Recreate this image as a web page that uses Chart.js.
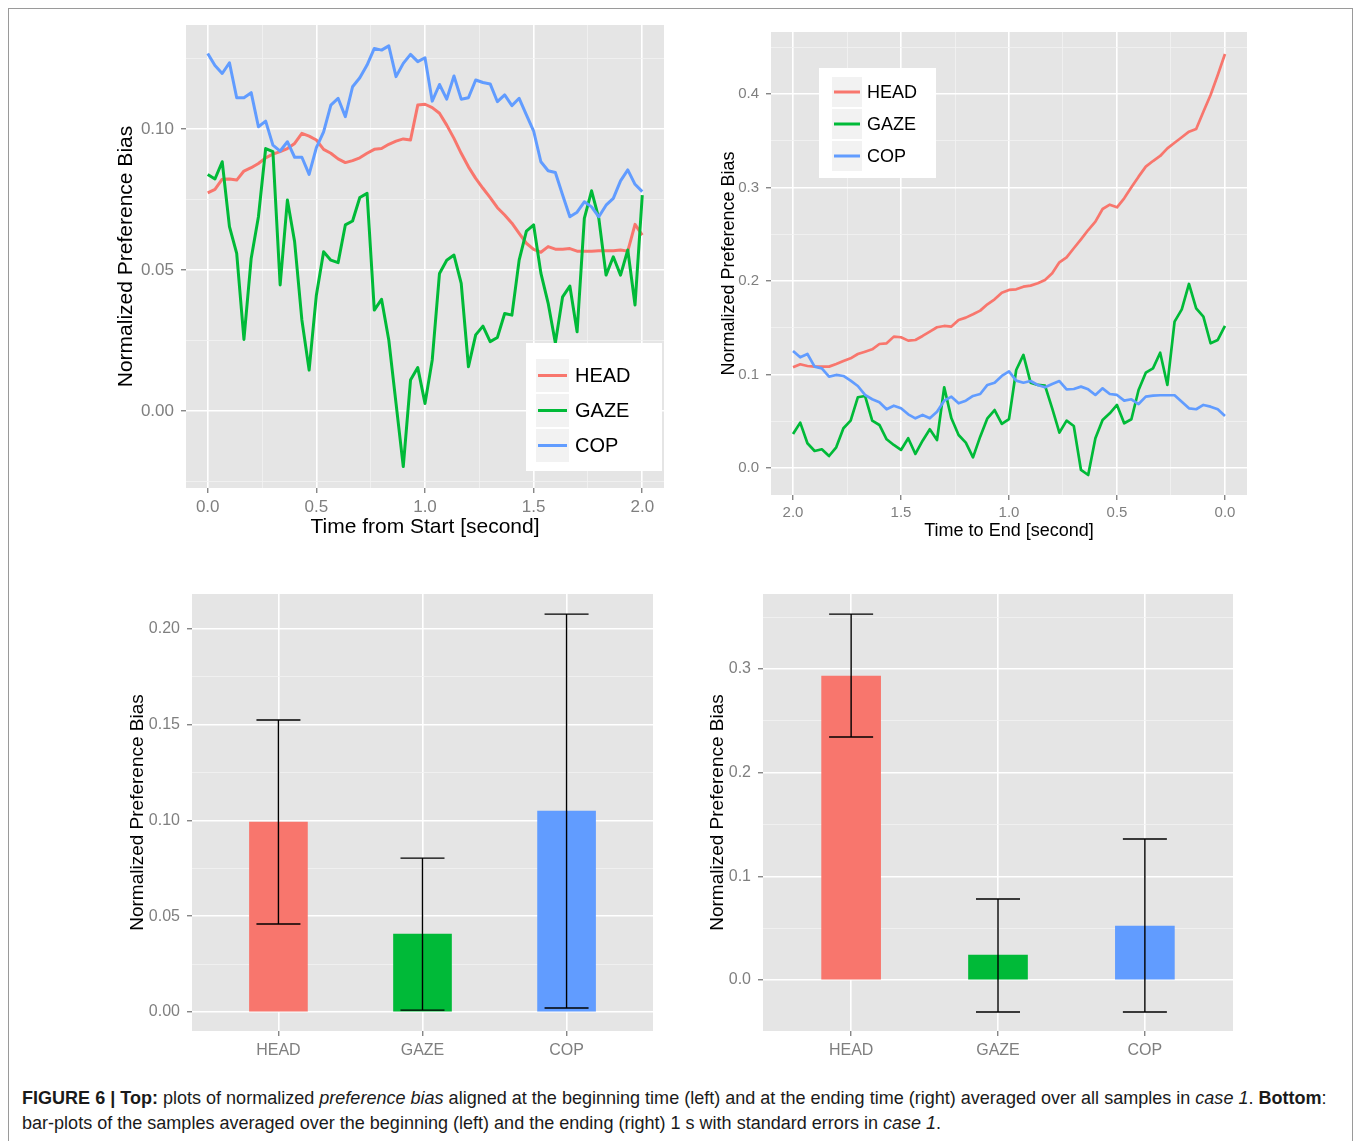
<!DOCTYPE html>
<html>
<head>
<meta charset="utf-8">
<title>Figure 6 - normalized preference bias</title>
<script src="https://cdn.jsdelivr.net/npm/chart.js@4.4.1/dist/chart.umd.min.js"></script>
<style>
    body { margin: 0; background: #fff; width: 1360px; height: 1141px; overflow: hidden; font-family: "Liberation Sans", Arial, sans-serif; }
    .frame { position: absolute; left: 8px; top: 8px; width: 1343px; height: 1150px; border: 1px solid #9a9a9a; }
    canvas { position: absolute; }
    #caption { position: absolute; left: 22px; top: 1086px; font-size: 18.05px; line-height: 24.5px; color: #1a1a1a; white-space: nowrap; }
</style>
</head>
<body>
<div class="frame"></div>
<canvas id="startLines" width="570" height="535" style="left:100px;top:15px"></canvas>
<canvas id="endLines" width="555" height="540" style="left:700px;top:20px"></canvas>
<canvas id="startBars" width="560" height="490" style="left:100px;top:584px"></canvas>
<canvas id="endBars" width="560" height="490" style="left:680px;top:584px"></canvas>
<div id="caption"><b>FIGURE 6 | Top:</b> plots of normalized <i>preference bias</i> aligned at the beginning time (left) and at the ending time (right) averaged over all samples in <i>case 1</i>. <b>Bottom</b>:<br>bar-plots of the samples averaged over the beginning (left) and the ending (right) 1 s with standard errors in <i>case 1</i>.</div>

<script>
// series names and colours (ggplot default hues)
const seriesNames = ["HEAD", "GAZE", "COP"];
const seriesColors = ["#F8766D", "#00BA38", "#619CFF"];

// samples at 30 Hz, 0.0 -> 2.0 s after the start
const headStart = [
    0.0774, 0.0786, 0.0822, 0.0823, 0.0819, 0.0851, 0.0863, 0.0878, 0.0898, 0.0911,
    0.0920, 0.0931, 0.0949, 0.0985, 0.0975, 0.0961, 0.0928, 0.0914, 0.0894, 0.0881,
    0.0888, 0.0898, 0.0914, 0.0928, 0.0931, 0.0946, 0.0957, 0.0965, 0.0961, 0.1085,
    0.1088, 0.1076, 0.1056, 0.1014, 0.0967, 0.0914, 0.0866, 0.0825, 0.0790, 0.0757,
    0.0721, 0.0695, 0.0666, 0.0630, 0.0595, 0.0573, 0.0563, 0.0583, 0.0574, 0.0574,
    0.0576, 0.0567, 0.0567, 0.0567, 0.0568, 0.0568, 0.0568, 0.0571, 0.0567, 0.0662,
    0.0624
];
const gazeStart = [
    0.0839, 0.0823, 0.0884, 0.0654, 0.0559, 0.0254, 0.0541, 0.0689, 0.0931, 0.0920,
    0.0447, 0.0748, 0.0600, 0.0323, 0.0145, 0.0411, 0.0565, 0.0535, 0.0526, 0.0660,
    0.0674, 0.0757, 0.0772, 0.0358, 0.0396, 0.0252, 0.0027, -0.0197, 0.0110, 0.0154,
    0.0027, 0.0181, 0.0488, 0.0535, 0.0553, 0.0453, 0.0157, 0.0270, 0.0301, 0.0246,
    0.0261, 0.0346, 0.0340, 0.0535, 0.0638, 0.0660, 0.0489, 0.0383, 0.0241, 0.0405,
    0.0443, 0.0281, 0.0683, 0.0781, 0.0683, 0.0482, 0.0547, 0.0482, 0.0571, 0.0376,
    0.0766
];
const copStart = [
    0.1268, 0.1225, 0.1197, 0.1235, 0.1111, 0.1111, 0.1129, 0.1008, 0.1028, 0.0943,
    0.0922, 0.0955, 0.0900, 0.0900, 0.0839, 0.0934, 0.0990, 0.1085, 0.1109, 0.1044,
    0.1150, 0.1182, 0.1227, 0.1286, 0.1280, 0.1295, 0.1186, 0.1233, 0.1265, 0.1239,
    0.1253, 0.1099, 0.1158, 0.1106, 0.1188, 0.1106, 0.1111, 0.1174, 0.1165, 0.1160,
    0.1097, 0.1121, 0.1083, 0.1109, 0.1050, 0.0993, 0.0884, 0.0852, 0.0846, 0.0766,
    0.0689, 0.0705, 0.0742, 0.0724, 0.0689, 0.0730, 0.0754, 0.0816, 0.0855, 0.0804,
    0.0778
];

// samples at 30 Hz, 2.0 -> 0.0 s before the end
const headEnd = [
    0.1077, 0.1109, 0.1091, 0.1084, 0.1084, 0.1084, 0.1112, 0.1144, 0.1173, 0.1219,
    0.1244, 0.1269, 0.1326, 0.1333, 0.1405, 0.1398, 0.1362, 0.1369, 0.1412, 0.1458,
    0.1505, 0.1519, 0.1512, 0.1583, 0.1608, 0.1644, 0.1683, 0.1751, 0.1804, 0.1875,
    0.1904, 0.1911, 0.1939, 0.1950, 0.1975, 0.2011, 0.2082, 0.2200, 0.2253, 0.2350,
    0.2446, 0.2545, 0.2634, 0.2770, 0.2816, 0.2788, 0.2884, 0.3002, 0.3116, 0.3223,
    0.3283, 0.3337, 0.3419, 0.3479, 0.3537, 0.3597, 0.3626, 0.3811, 0.3989, 0.4203,
    0.4428
];
const gazeEnd = [
    0.0364, 0.0485, 0.0264, 0.0182, 0.0200, 0.0128, 0.0221, 0.0425, 0.0506, 0.0756,
    0.0770, 0.0506, 0.0460, 0.0307, 0.0246, 0.0193, 0.0318, 0.0150, 0.0292, 0.0414,
    0.0299, 0.0863, 0.0531, 0.0353, 0.0271, 0.0114, 0.0335, 0.0531, 0.0620, 0.0471,
    0.0522, 0.1048, 0.1209, 0.0912, 0.0888, 0.0880, 0.0638, 0.0378, 0.0506, 0.0449,
    -0.0021, -0.0075, 0.0318, 0.0513, 0.0585, 0.0674, 0.0478, 0.0521, 0.0834, 0.1019,
    0.1066, 0.1233, 0.0888, 0.1565, 0.1697, 0.1968, 0.1708, 0.1618, 0.1334, 0.1369,
    0.1519
];
const copEnd = [
    0.1251, 0.1184, 0.1219, 0.1084, 0.1066, 0.0977, 0.0995, 0.0984, 0.0934, 0.0877,
    0.0781, 0.0735, 0.0703, 0.0628, 0.0666, 0.0638, 0.0574, 0.0531, 0.0567, 0.0531,
    0.0602, 0.0720, 0.0763, 0.0692, 0.0720, 0.0770, 0.0791, 0.0888, 0.0912, 0.0984,
    0.1034, 0.0934, 0.0912, 0.0930, 0.0888, 0.0863, 0.0898, 0.0930, 0.0841, 0.0845,
    0.0870, 0.0841, 0.0781, 0.0852, 0.0791, 0.0781, 0.0720, 0.0735, 0.0684, 0.0763,
    0.0774, 0.0778, 0.0778, 0.0778, 0.0709, 0.0638, 0.0628, 0.0674, 0.0656, 0.0628,
    0.0556
];

// bar plots: mean over the first / last second with standard errors
const barCategories = ["HEAD", "GAZE", "COP"];
const startMean = [0.0992, 0.0407, 0.1050];
const startUpper = [0.1525, 0.0804, 0.2078];
const startLower = [0.0460, 0.0010, 0.0021];
const endMean = [0.2932, 0.0241, 0.0521];
const endUpper = [0.3529, 0.0781, 0.1360];
const endLower = [0.2343, -0.0309, -0.0309];

const SAMPLE_RATE = 30;
const timeFromStart = headStart.map((_, i) => i / SAMPLE_RATE);
const timeToEnd = headEnd.map((_, i) => 2 - i / SAMPLE_RATE);

const FONT = "'Liberation Sans', Arial, sans-serif";
const PANEL = "#E5E5E5";
const MINOR = "#F2F2F2";
const TICK_TEXT = "#7F7F7F";
const NONE = "rgba(0,0,0,0)";

function isMajor(v, step) {
    const r = v / step;
    return Math.abs(r - Math.round(r)) < 1e-6;
}

// ggplot-like panel: grey background, white major + light minor grid
const panelBg = {
    id: "panelBg",
    beforeDraw(chart) {
        const { ctx, chartArea: a } = chart;
        ctx.save();
        ctx.fillStyle = PANEL;
        ctx.fillRect(a.left, a.top, a.right - a.left, a.bottom - a.top);
        ctx.restore();
    },
};

const ggLegend = {
    id: "ggLegend",
    afterDraw(chart, args, o) {
        if (!o || !o.box) return;
        const ctx = chart.ctx;
        const [bx, by, bw, bh] = o.box;
        ctx.save();
        ctx.fillStyle = "#fff";
        ctx.fillRect(bx, by, bw, bh);
        chart.data.datasets.forEach((ds, i) => {
            const ky = o.keyTop + i * o.rowH;
            ctx.fillStyle = MINOR;
            ctx.fillRect(o.keyX, ky, o.keySize, o.keySize);
            ctx.strokeStyle = ds.borderColor;
            ctx.lineWidth = o.lineW;
            ctx.beginPath();
            ctx.moveTo(o.keyX + 2, ky + o.keySize / 2);
            ctx.lineTo(o.keyX + o.keySize - 2, ky + o.keySize / 2);
            ctx.stroke();
            ctx.fillStyle = "#000";
            ctx.font = o.fontSize + "px " + FONT;
            ctx.textBaseline = "middle";
            ctx.fillText(ds.label, o.textX, ky + o.keySize / 2 + 1);
        });
        ctx.restore();
    },
};

const errorBars = {
    id: "errorBars",
    afterDatasetsDraw(chart, args, o) {
        const ctx = chart.ctx;
        const y = chart.scales.y;
        const meta = chart.getDatasetMeta(0);
        ctx.save();
        ctx.strokeStyle = "#000";
        ctx.lineWidth = 1.4;
        meta.data.forEach((bar, i) => {
            const yu = y.getPixelForValue(o.upper[i]);
            const yl = y.getPixelForValue(o.lower[i]);
            const h = o.capWidth / 2;
            ctx.beginPath();
            ctx.moveTo(bar.x, yu);
            ctx.lineTo(bar.x, yl);
            ctx.moveTo(bar.x - h, yu);
            ctx.lineTo(bar.x + h, yu);
            ctx.moveTo(bar.x - h, yl);
            ctx.lineTo(bar.x + h, yl);
            ctx.stroke();
        });
        ctx.restore();
    },
};

function gridOpts(majorStep, minorOn) {
    const major = (c) => c.tick && isMajor(c.tick.value, majorStep);
    return {
        offset: false,
        color: (c) => (major(c) ? "#fff" : minorOn ? MINOR : NONE),
        lineWidth: (c) => (major(c) ? 1.6 : 0.8),
        tickColor: (c) => (major(c) ? "#555" : NONE),
        tickWidth: 1,
        tickLength: 5,
        drawTicks: true,
    };
}

function axis(o) {
    return {
        type: "linear",
        min: o.min,
        max: o.max,
        offset: false,
        reverse: !!o.reverse,
        border: { display: false },
        grid: gridOpts(o.major, o.minor !== false),
        title: o.title
            ? { display: true, text: o.title, color: "#000", font: { family: FONT, size: o.titleSize }, padding: o.titlePad }
            : { display: false },
        ticks: {
            stepSize: o.step,
            includeBounds: false,
            autoSkip: false,
            maxTicksLimit: 100,
            maxRotation: 0,
            color: TICK_TEXT,
            font: { family: FONT, size: o.tickSize },
            padding: o.tickPad,
            callback: o.label,
        },
        afterFit: (s) => {
            // fixed axis boxes so that the panels land where the original has them
            s.paddingTop = 0;
            s.paddingBottom = 0;
            s.paddingLeft = 0;
            s.paddingRight = 0;
            if (o.width) s.width = o.width;
            if (o.height) s.height = o.height;
        },
    };
}

function lineChart(id, times, series, cfg) {
    new Chart(document.getElementById(id), {
        type: "line",
        data: {
            datasets: series.map((vals, k) => ({
                label: seriesNames[k],
                data: vals.map((v, i) => ({ x: times[i], y: v })),
                borderColor: seriesColors[k],
                borderWidth: cfg.lineW,
                pointRadius: 0,
                tension: 0,
                fill: false,
                borderJoinStyle: "round",
                order: 3 - k,
            })),
        },
        options: {
            responsive: false,
            animation: false,
            layout: { padding: cfg.padding },
            plugins: { legend: { display: false }, tooltip: { enabled: false }, ggLegend: cfg.legend },
            scales: { x: axis(cfg.x), y: axis(cfg.y) },
        },
        plugins: [panelBg, ggLegend],
    });
}

function barChart(id, mean, upper, lower, cfg) {
    new Chart(document.getElementById(id), {
        type: "bar",
        data: {
            datasets: [{
                data: mean.map((v, i) => ({ x: i + 1, y: v })),
                backgroundColor: seriesColors,
                barThickness: cfg.barW,
                borderWidth: 0,
            }],
        },
        options: {
            responsive: false,
            animation: false,
            layout: { padding: cfg.padding },
            plugins: {
                legend: { display: false },
                tooltip: { enabled: false },
                errorBars: { upper: upper, lower: lower, capWidth: 44 },
            },
            scales: { x: axis(cfg.x), y: axis(cfg.y) },
        },
        plugins: [panelBg, errorBars],
    });
}

const fix1 = (v) => (isMajor(v, 0.5) ? v.toFixed(1) : "");

lineChart("startLines", timeFromStart, [headStart, gazeStart, copStart], {
    lineW: 3,
    padding: { top: 10, right: 6, left: 0, bottom: 0 },
    legend: { box: [426, 328, 136, 128], keyX: 436, keyTop: 344, keySize: 33, rowH: 35, textX: 475, fontSize: 20, lineW: 3 },
    x: { min: -0.1, max: 2.1, step: 0.25, major: 0.5, tickSize: 17, tickPad: 4, label: fix1,
         title: "Time from Start [second]", titleSize: 21, titlePad: { top: 0, bottom: 10 }, height: 62 },
    y: { min: -0.0273, max: 0.1369, step: 0.025, major: 0.05, tickSize: 17, tickPad: 7,
         label: (v) => (isMajor(v, 0.05) ? v.toFixed(2) : ""),
         title: "Normalized Preference Bias", titleSize: 21, titlePad: { top: 14, bottom: 0 }, width: 86 },
});

lineChart("endLines", timeToEnd, [headEnd, gazeEnd, copEnd], {
    lineW: 2.7,
    padding: { top: 12, right: 8, left: 0, bottom: 0 },
    legend: { box: [119, 48, 117, 110], keyX: 132, keyTop: 57, keySize: 30, rowH: 32, textX: 167, fontSize: 18, lineW: 3 },
    x: { min: -0.102, max: 2.102, reverse: true, step: 0.25, major: 0.5, tickSize: 15, tickPad: 4, label: fix1,
         title: "Time to End [second]", titleSize: 18, titlePad: { top: 0, bottom: 18 }, height: 65 },
    y: { min: -0.0289, max: 0.4663, step: 0.05, major: 0.1, tickSize: 15, tickPad: 7,
         label: (v) => (isMajor(v, 0.1) ? v.toFixed(1) : ""),
         title: "Normalized Preference Bias", titleSize: 18, titlePad: { top: 18, bottom: 0 }, width: 71 },
});

const catLabel = (v) => barCategories[Math.round(v) - 1] || "";

barChart("startBars", startMean, startUpper, startLower, {
    barW: 58,
    padding: { top: 10, right: 7, left: 0, bottom: 0 },
    x: { min: 0.4, max: 3.6, step: 1, major: 1, minor: false, tickSize: 16, tickPad: 5, label: catLabel, height: 43 },
    y: { min: -0.0099, max: 0.2183, step: 0.025, major: 0.05, tickSize: 16, tickPad: 7,
         label: (v) => (isMajor(v, 0.05) ? v.toFixed(2) : ""),
         title: "Normalized Preference Bias", titleSize: 19, titlePad: { top: 26, bottom: 0 }, width: 92 },
});

barChart("endBars", endMean, endUpper, endLower, {
    barW: 59,
    padding: { top: 10, right: 7, left: 0, bottom: 0 },
    x: { min: 0.4, max: 3.6, step: 1, major: 1, minor: false, tickSize: 16, tickPad: 5, label: catLabel, height: 43 },
    y: { min: -0.0492, max: 0.3723, step: 0.05, major: 0.1, tickSize: 16, tickPad: 7,
         label: (v) => (isMajor(v, 0.1) ? v.toFixed(1) : ""),
         title: "Normalized Preference Bias", titleSize: 19, titlePad: { top: 26, bottom: 0 }, width: 83 },
});
</script>
</body>
</html>
